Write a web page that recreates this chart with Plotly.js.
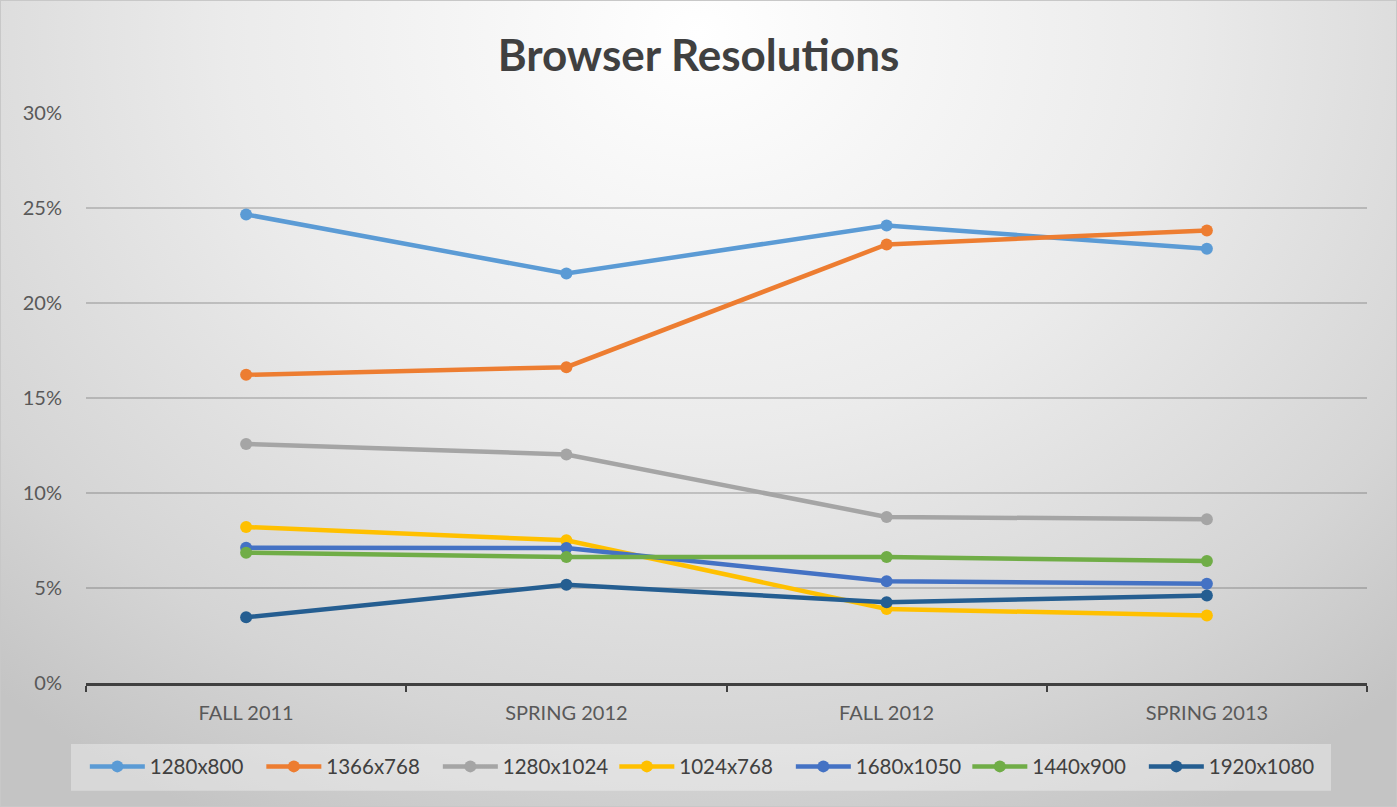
<!DOCTYPE html>
<html>
<head>
<meta charset="utf-8">
<script src="https://cdn.plot.ly/plotly-3.0.1.min.js"></script>
<style>
  html, body { margin: 0; padding: 0; background: #ffffff; }
  #chart {
    width: 1395px; height: 805px;
    border: 1px solid #c8c8c8;
    background: radial-gradient(ellipse 75% 110% at 50% 4%, #ffffff 0%, #ebebeb 45%, #d5d5d5 80%, #c4c4c4 100%);
  }
</style>
</head>
<body>
<div id="chart"></div>
<script>
const categories = ["FALL 2011", "SPRING 2012", "FALL 2012", "SPRING 2013"];
const seriesNames = ["1280x800", "1366x768", "1280x1024", "1024x768", "1680x1050", "1440x900", "1920x1080"];
const res1280x800  = [24.66, 21.55, 24.08, 22.85];
const res1366x768  = [16.22, 16.62, 23.08, 23.82];
const res1280x1024 = [12.58, 12.03, 8.74, 8.62];
const res1024x768  = [8.21, 7.51, 3.90, 3.55];
const res1680x1050 = [7.12, 7.10, 5.36, 5.22];
const res1440x900  = [6.86, 6.63, 6.63, 6.42];
const res1920x1080 = [3.46, 5.17, 4.25, 4.61];
const seriesValues = [res1280x800, res1366x768, res1280x1024, res1024x768, res1680x1050, res1440x900, res1920x1080];
const seriesColors = ["#5B9BD5", "#ED7D31", "#A5A5A5", "#FFC000", "#4472C4", "#70AD47", "#255E91"];

const traces = seriesNames.map((name, i) => ({
  type: "scatter",
  mode: "lines+markers",
  name: name,
  x: categories,
  y: seriesValues[i].map(v => v / 100),
  line: { color: seriesColors[i], width: 4.5 },
  marker: { color: seriesColors[i], size: 12 },
  hovertemplate: "%{x}: %{y:.1%}<extra>" + name + "</extra>"
}));

const layout = {
  width: 1395, height: 805,
  paper_bgcolor: "rgba(0,0,0,0)",
  plot_bgcolor: "rgba(0,0,0,0)",
  font: { family: "Lato, 'Open Sans', sans-serif", color: "#595959", size: 20 },
  margin: { l: 85, r: 29, t: 112, b: 123 },
  title: {
    text: "<b>Browser Resolutions</b>",
    font: { family: "Lato, sans-serif", size: 44, color: "#404040" },
    x: 0.5, xanchor: "center",
    yref: "container", y: 0.932, yanchor: "middle"
  },
  xaxis: {
    type: "category",
    range: [-0.5, 3.5],
    showline: true, linecolor: "#404040", linewidth: 2.5,
    ticks: "outside", tickson: "boundaries", ticklen: 6, tickwidth: 2, tickcolor: "#404040",
    ticklabelstandoff: 10,
    showgrid: false, zeroline: false,
    tickfont: { size: 20, color: "#595959" }
  },
  yaxis: {
    range: [0, 0.30],
    tickvals: [0, 0.05, 0.10, 0.15, 0.20, 0.25, 0.30],
    tickformat: ".0%",
    showgrid: true, gridcolor: "rgba(0,0,0,0.17)", gridwidth: 2,
    zeroline: false, showline: false,
    ticks: "", ticklabelstandoff: 23,
    tickfont: { size: 20, color: "#595959" }
  },
  shapes: [{
    type: "rect", layer: "below",
    xref: "paper", yref: "paper",
    x0: -0.0117, x1: 0.9719, y0: -0.107, y1: -0.189,
    fillcolor: "rgba(255,255,255,0.35)", line: { width: 0 }
  }],
  showlegend: true,
  legend: {
    orientation: "h",
    xref: "container", x: 0.0601, xanchor: "left",
    yref: "container", y: 0.049, yanchor: "middle",
    bgcolor: "rgba(0,0,0,0)",
    borderwidth: 0,
    itemwidth: 55,
    entrywidth: 106.5, entrywidthmode: "pixels",
    font: { size: 20.5, color: "#404040" }
  }
};

Plotly.newPlot("chart", traces, layout, { displayModeBar: false });
</script>
</body>
</html>
